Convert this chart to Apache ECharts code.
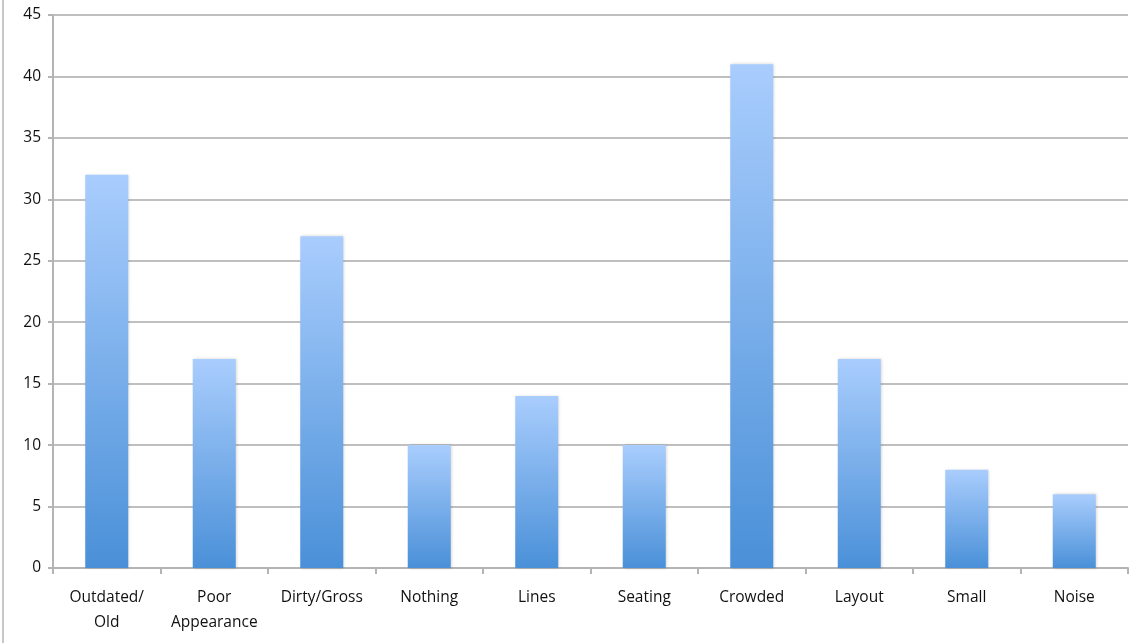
<!DOCTYPE html>
<html>
<head>
<meta charset="utf-8">
<script src="https://cdn.jsdelivr.net/npm/echarts@6/dist/echarts.min.js"></script>
<style>
  html, body { margin: 0; padding: 0; background: #fff; }
  #chart { height: 643px; box-sizing: border-box; border-left: 2px solid #c8c8c8; margin-left: 2px; width: 1142px; }
</style>
</head>
<body>
<div id="chart"></div>
<script>
// Complaint categories and response counts
const categories = ['Outdated/\nOld', 'Poor\nAppearance', 'Dirty/Gross', 'Nothing', 'Lines', 'Seating', 'Crowded', 'Layout', 'Small', 'Noise'];
const counts = [32, 17, 27, 10, 14, 10, 41, 17, 8, 6];
const yTicks = { min: 0, max: 45, interval: 5 };

const chart = echarts.init(document.getElementById('chart'), null, { renderer: 'canvas' });
const axisGray = '#b4b4b4';
const labelFont = { color: '#111', fontSize: 15.5, fontFamily: 'Open Sans' };
chart.setOption({
  animation: false,
  grid: { left: 49, right: 16, top: 15, bottom: 75 },
  xAxis: {
    type: 'category',
    data: categories,
    axisLine: { lineStyle: { color: axisGray, width: 2 } },
    axisTick: { show: true, length: 6, lineStyle: { color: axisGray, width: 2 } },
    axisLabel: Object.assign({ margin: 17, lineHeight: 25, interval: 0 }, labelFont)
  },
  yAxis: {
    type: 'value',
    min: yTicks.min, max: yTicks.max, interval: yTicks.interval,
    axisLine: { show: true, lineStyle: { color: axisGray, width: 2 } },
    axisTick: { show: true, length: 5, lineStyle: { color: axisGray, width: 2 } },
    axisLabel: Object.assign({ margin: 12 }, labelFont),
    splitLine: { lineStyle: { color: '#bfbfbf', width: 2 } }
  },
  series: [{
    type: 'bar',
    data: counts,
    barWidth: '40%',
    itemStyle: {
      color: new echarts.graphic.LinearGradient(0, 0, 0, 1, [
        { offset: 0, color: '#a9cdfd' },
        { offset: 1, color: '#4a90d8' }
      ]),
      shadowColor: 'rgba(0,0,0,0.18)',
      shadowBlur: 3,
      shadowOffsetX: 1
    }
  }]
});
</script>
</body>
</html>
